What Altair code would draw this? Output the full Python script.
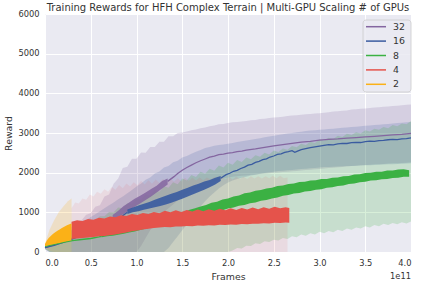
import altair as alt
import pandas as pd

ORDER = ["32", "16", "8", "4", "2"]
COLORS = ["#8466a0", "#3a5ba0", "#3bb143", "#e5534b", "#fbb117"]
TITLE = "Training Rewards for HFH Complex Terrain | Multi-GPU Scaling # of GPUs"
X_TICKS = [0.0, 0.5, 1.0, 1.5, 2.0, 2.5, 3.0, 3.5, 4.0]
Y_TICKS = [0, 1000, 2000, 3000, 4000, 5000, 6000]


def grid(start, step, n):
    return [round(start + step * i, 3) for i in range(n)]


# ---------------- smooth parts of the mean curves (frames in 1e11) ----------------
x_8_a = [0.0, 0.1, 0.2, 0.3, 0.4, 0.5, 0.59, 0.62]
y_8_a = [140, 190, 240, 285, 315, 340, 380, 395]

x_16_a = [0.0, 0.1, 0.2, 0.3, 0.4, 0.5, 0.6, 0.7, 0.8, 0.9]
y_16_a = [110, 170, 240, 330, 420, 520, 620, 730, 830, 1000]
x_16_c = [1.92, 1.98, 2.02, 2.06, 2.1, 2.14, 2.18, 2.22, 2.26, 2.3, 2.34, 2.38, 2.42, 2.46, 2.5, 2.54, 2.58, 2.62,
          2.66, 2.7, 2.73, 2.76, 2.8, 2.85, 2.9, 2.95, 3.0, 3.05, 3.1, 3.15, 3.2, 3.25, 3.3, 3.35, 3.4, 3.45, 3.5,
          3.55, 3.6, 3.65, 3.7, 3.75, 3.8, 3.85, 3.9, 3.95, 4.0]
y_16_c = [1860, 1950, 1985, 2035, 2060, 2105, 2140, 2190, 2210, 2260, 2285, 2330, 2350, 2395, 2420, 2460, 2475, 2510,
          2530, 2555, 2515, 2545, 2580, 2605, 2630, 2650, 2670, 2690, 2705, 2700, 2725, 2740, 2735, 2755, 2765, 2760,
          2780, 2795, 2790, 2810, 2815, 2830, 2840, 2835, 2850, 2860, 2875]

x_32_a = [0.0, 0.1, 0.2, 0.3, 0.4, 0.5, 0.6, 0.7, 0.74]
y_32_a = [110, 180, 260, 350, 440, 540, 640, 750, 870]
x_32_c = [1.34, 1.41, 1.45, 1.5, 1.55, 1.6, 1.65, 1.7, 1.75, 1.8, 1.85, 1.9, 1.95, 2.0, 2.05, 2.1, 2.15, 2.2, 2.3,
          2.4, 2.5, 2.6, 2.7, 2.8, 2.9, 3.0, 3.1, 3.2, 3.3, 3.4, 3.5, 3.6, 3.7, 3.8, 3.9, 4.0]
y_32_c = [1780, 1900, 1980, 2060, 2130, 2190, 2250, 2300, 2345, 2390, 2420, 2455, 2470, 2495, 2505, 2530, 2545, 2570,
          2600, 2640, 2675, 2705, 2740, 2770, 2790, 2820, 2840, 2850, 2870, 2885, 2900, 2915, 2935, 2955, 2965, 2990]

# ---------------- fast-oscillating parts of the mean curves: trough / peak envelopes ----------------
ex_2 = [0.0, 0.02, 0.04, 0.06, 0.08, 0.1, 0.12, 0.14, 0.16, 0.18, 0.2, 0.22, 0.24, 0.26, 0.28, 0.29]
el_2 = [150, 160, 170, 180, 190, 200, 210, 220, 230, 240, 250, 260, 270, 280, 290, 295]
eh_2 = [200, 290, 350, 400, 440, 480, 510, 540, 570, 600, 625, 650, 675, 695, 715, 720]

ex_4 = grid(0.29, 0.06, 40) + [2.67]
el_4 = [330, 340, 350, 365, 380, 395, 405, 425, 440, 465, 490, 520, 545, 570, 585, 605, 615, 630, 625, 645,
        640, 655, 650, 665, 660, 675, 670, 685, 680, 695, 690, 705, 700, 715, 710, 725, 720, 735, 730, 745, 740]
eh_4 = [760, 800, 780, 835, 815, 865, 845, 895, 875, 925, 905, 955, 935, 985, 960, 1010, 980, 1040, 1000, 1050,
        1010, 1060, 1020, 1070, 1030, 1080, 1040, 1090, 1050, 1100, 1060, 1110, 1070, 1120, 1080, 1130, 1090, 1140, 1100, 1130,
        1110]

ex_8 = grid(0.62, 0.06, 57)
el_8 = [375, 395, 408, 432, 458, 492, 515, 552, 583, 618, 642, 684, 705, 740, 758, 798, 826, 870, 900, 945,
        975, 1020, 1050, 1098, 1122, 1165, 1188, 1230, 1250, 1290, 1310, 1350, 1372, 1415, 1436, 1472, 1490, 1528, 1540, 1572,
        1585, 1618, 1630, 1662, 1675, 1712, 1728, 1760, 1770, 1802, 1808, 1834, 1840, 1866, 1870, 1895, 1900]
eh_8 = [418, 438, 465, 490, 538, 570, 618, 655, 710, 748, 800, 838, 890, 925, 978, 1010, 1068, 1100, 1150, 1185,
        1240, 1268, 1325, 1350, 1402, 1425, 1478, 1500, 1545, 1560, 1602, 1618, 1662, 1675, 1715, 1726, 1762, 1770, 1802, 1806,
        1838, 1842, 1872, 1876, 1908, 1915, 1952, 1958, 1990, 1996, 2022, 2026, 2052, 2055, 2080, 2085, 2060]

ex_16 = grid(0.90, 0.06, 18)
el_16 = [960, 1000, 1030, 1065, 1095, 1130, 1160, 1200, 1240, 1290, 1340, 1400, 1455, 1515, 1570, 1635, 1700, 1790]
eh_16 = [1070, 1125, 1170, 1215, 1260, 1315, 1370, 1420, 1470, 1515, 1570, 1620, 1675, 1720, 1775, 1815, 1870, 1915]

ex_32 = grid(0.74, 0.06, 11)
el_32 = [820, 880, 960, 1050, 1140, 1220, 1310, 1400, 1500, 1600, 1700]
eh_32 = [930, 1040, 1160, 1250, 1340, 1420, 1500, 1590, 1670, 1790, 1850]

# ---------------- std bands ----------------
bx_2 = [0.0, 0.05, 0.1, 0.15, 0.2, 0.25, 0.29]
lo_2 = [100, 20, 0, 0, 0, 0, 0]
hi_2 = [220, 560, 800, 1000, 1150, 1280, 1350]

bx_4 = grid(0.29, 0.04, 60)
lo_4 = [0] * 60
hi_4 = [1100, 1250, 1220, 1350, 1320, 1450, 1400, 1520, 1470, 1580,
        1520, 1640, 1570, 1690, 1610, 1730, 1650, 1760, 1680, 1790,
        1700, 1810, 1720, 1830, 1740, 1840, 1760, 1850, 1770, 1860,
        1780, 1870, 1790, 1870, 1800, 1880, 1810, 1880, 1820, 1890,
        1820, 1890, 1830, 1900, 1830, 1900, 1840, 1900, 1840, 1910,
        1850, 1910, 1850, 1910, 1860, 1920, 1860, 1920, 1860, 1880]

bx = grid(0.0, 0.05, 81)
lo_8 = [80] + [0] * 40 + [40, 100, 90, 160, 150, 220, 200, 270, 250, 310, 290, 350, 330, 400, 370, 440, 410, 470, 440, 510,
                          470, 530, 500, 560, 530, 590, 560, 620, 590, 650, 620, 680, 650, 710, 680, 730, 700, 750, 720, 770]
hi_8 = [200, 260, 320, 380, 430, 480, 560, 600, 680, 700, 790, 800, 900, 900, 1010, 1000, 1120, 1100, 1230, 1210,
        1340, 1320, 1450, 1420, 1560, 1520, 1660, 1620, 1760, 1710, 1850, 1800, 1940, 1890, 2020, 1970, 2100, 2050, 2180, 2130,
        2250, 2200, 2320, 2270, 2380, 2340, 2440, 2400, 2500, 2460, 2560, 2520, 2610, 2580, 2670, 2640, 2730, 2700, 2780, 2750,
        2840, 2810, 2880, 2850, 2930, 2900, 2980, 2950, 3020, 2990, 3070, 3040, 3110, 3080, 3150, 3120, 3200, 3170, 3240, 3220,
        3300]

lo_16 = [70] + [0] * 26 + [100, 250, 400, 550, 700, 850, 1000, 1150, 1280, 1400, 1500, 1600, 1680, 1750,
                           1800, 1840, 1870, 1900, 1930, 1950, 1970, 1990, 2010, 2025, 2040, 2050, 2060, 2070, 2080, 2090,
                           2100, 2110, 2120, 2130, 2140, 2145, 2150, 2155, 2160, 2165, 2170, 2175, 2180, 2185, 2190, 2195,
                           2200, 2205, 2210, 2215, 2220, 2225, 2230, 2235]
hi_16 = [150, 220, 290, 360, 430, 500, 580, 650, 730, 800, 880, 950, 1030, 1100, 1180, 1250, 1330, 1400,
         1480, 1560, 1650, 1730, 1820, 1880, 1980, 2030, 2130, 2170, 2260, 2300, 2380, 2420, 2480, 2530, 2570, 2620,
         2650, 2680, 2700, 2710,
         2730, 2750, 2770, 2790, 2810, 2830, 2850, 2870, 2890, 2910, 2930, 2950, 2970, 2990, 3000, 3020, 3030, 3050,
         3060, 3070, 3080, 3090, 3100, 3110, 3120, 3130, 3140, 3150, 3160, 3170, 3180, 3190, 3200, 3210, 3220, 3230,
         3240, 3250, 3260, 3270, 3280]

lo_32 = [60] + [0] * 20 + [150, 350, 550, 700, 850, 1000, 1100, 1200, 1300, 1400, 1470, 1540, 1600, 1650, 1700, 1740,
                           1780, 1820, 1850, 1880,
                           1900, 1910, 1920, 1930, 1945, 1955, 1965, 1975, 1985, 1995, 2005, 2015, 2025, 2035, 2045, 2055,
                           2065, 2075, 2085, 2095, 2105, 2115, 2125, 2135, 2145, 2155, 2165, 2175, 2185, 2195, 2200, 2210,
                           2215, 2220, 2230, 2235, 2240, 2245, 2250, 2260]
hi_32 = [150, 230, 320, 400, 480, 560, 640, 760, 800, 940, 980, 1140, 1180, 1400, 1450, 1720, 1850, 2120, 2150, 2350,
         2350, 2510, 2500, 2650, 2650, 2780, 2780, 2920, 2920, 3000, 3010, 3040, 3070, 3090, 3120, 3140, 3170, 3190, 3220, 3230,
         3250, 3270, 3280, 3290, 3300, 3320, 3330, 3350, 3360, 3380, 3390, 3400, 3410, 3430, 3440, 3450, 3460, 3470, 3480, 3490,
         3500, 3510, 3520, 3540, 3550, 3560, 3570, 3590, 3600, 3610, 3620, 3630, 3640, 3650, 3660, 3670, 3680, 3690, 3700, 3710,
         3720]

# ---------------- assemble tables ----------------
line_parts = {
    "32": [(x_32_a, y_32_a), (x_32_c, y_32_c)],
    "16": [(x_16_a, y_16_a), (x_16_c, y_16_c)],
    "8": [(x_8_a, y_8_a)],
    "4": [],
    "2": [],
}
envelopes = {
    "32": (ex_32, el_32, eh_32),
    "16": (ex_16, el_16, eh_16),
    "8": (ex_8, el_8, eh_8),
    "4": (ex_4, el_4, eh_4),
    "2": (ex_2, el_2, eh_2),
}
bands = {
    "32": (bx, lo_32, hi_32),
    "16": (bx, lo_16, hi_16),
    "8": (bx, lo_8, hi_8),
    "4": (bx_4, lo_4, hi_4),
    "2": (bx_2, lo_2, hi_2),
}
BAND_OPACITY = {"32": 0.2, "16": 0.18, "8": 0.2, "4": 0.1, "2": 0.2}
ENV_OPACITY = {"32": 0.85, "16": 0.9, "8": 1.0, "4": 1.0, "2": 1.0}

line_rows, env_rows, band_rows = [], [], []
for g in ORDER:
    for s, (xs, ys) in enumerate(line_parts[g]):
        assert len(xs) == len(ys), (g, s, len(xs), len(ys))
        for a, b in zip(xs, ys):
            line_rows.append({"gpus": g, "seg": f"{g}-{s}", "frames": a, "reward": b})
    exs, els, ehs = envelopes[g]
    assert len(exs) == len(els) == len(ehs), (g, len(exs), len(els), len(ehs))
    for a, lo, hi in zip(exs, els, ehs):
        env_rows.append({"series": g, "frames": a, "lo": lo, "hi": hi})
    bxs, los, his = bands[g]
    assert len(bxs) == len(los) == len(his), (g, len(bxs), len(los), len(his))
    for a, lo, hi in zip(bxs, los, his):
        band_rows.append({"series": g, "frames": a, "lo": lo, "hi": hi})

line_df = pd.DataFrame(line_rows)
env_df = pd.DataFrame(env_rows)
band_df = pd.DataFrame(band_rows)
legend_df = pd.DataFrame({"gpus": ORDER, "row": list(range(len(ORDER)))})

FONT = "DejaVu Sans"
TXT = "#333333"
color_scale = alt.Scale(domain=ORDER, range=COLORS)

x_enc = alt.X("frames:Q", scale=alt.Scale(domain=[0, 4], nice=False, zero=False),
              axis=alt.Axis(values=X_TICKS, format=".1f", title="Frames",
                            titleX=183, titleY=24, titleBaseline="middle"))


def y_enc(field):
    return alt.Y(field, scale=alt.Scale(domain=[0, 6000], nice=False),
                 axis=alt.Axis(values=Y_TICKS, format="d", title="Reward",
                               titleX=-37, titleY=119, titleBaseline="middle", titleAlign="center"))


layers = []
for g in ORDER:
    layers.append(
        alt.Chart(band_df).transform_filter(alt.datum.series == g)
        .mark_area(opacity=BAND_OPACITY[g])
        .encode(x=x_enc, y=y_enc("lo:Q"), y2="hi:Q",
                fill=alt.Fill("series:N", scale=color_scale, legend=None))
    )

for g in ORDER:
    if line_parts[g]:
        layers.append(
            alt.Chart(line_df).transform_filter(alt.datum.gpus == g)
            .mark_line(strokeWidth=1.3)
            .encode(x=x_enc, y=y_enc("reward:Q"), detail="seg:N",
                    stroke=alt.Stroke("gpus:N", scale=color_scale, legend=None))
        )
    layers.append(
        alt.Chart(env_df).transform_filter(alt.datum.series == g)
        .mark_area(opacity=ENV_OPACITY[g])
        .encode(x=x_enc, y=y_enc("lo:Q"), y2="hi:Q",
                fill=alt.Fill("series:N", scale=color_scale, legend=None))
    )

# ---------------- legend (drawn as marks) ----------------
legend_box = alt.Chart(pd.DataFrame({"k": [0]})).mark_rect(
    fill="#EAEAF2", fillOpacity=0.85, stroke="#cccccc", strokeWidth=0.8, cornerRadius=3
).encode(x=alt.value(318), x2=alt.value(366), y=alt.value(6), y2=alt.value(78))

legend_base = alt.Chart(legend_df).transform_calculate(py="12.7 + 14.4 * datum.row")
legend_lines = legend_base.mark_rule(strokeWidth=1.5).encode(
    x=alt.value(321), x2=alt.value(341),
    y=alt.Y("py:Q", scale=None, axis=None),
    stroke=alt.Stroke("gpus:N", scale=color_scale, legend=None),
)
legend_labels = legend_base.mark_text(
    align="left", baseline="middle", font=FONT, fontSize=9.4, color=TXT
).encode(x=alt.value(348), y=alt.Y("py:Q", scale=None, axis=None), text="gpus:N")
layers += [legend_box, legend_lines, legend_labels]

offset_text = alt.Chart(pd.DataFrame({"t": ["1e11"]})).mark_text(
    align="right", baseline="middle", font=FONT, fontSize=8.3, color=TXT
).encode(text="t:N", x=alt.value(366), y=alt.value(263))
layers.append(offset_text)

chart = alt.layer(*layers).properties(
    width=366, height=238,
    padding={"left": 45, "top": 14, "right": 12, "bottom": 33},
    autosize=alt.AutoSizeParams(type="none"),
    title=alt.TitleParams(TITLE, font=FONT, fontSize=10, fontWeight="normal", color=TXT,
                          anchor="middle", frame="group", offset=-3.5),
    background="white",
).configure_view(fill="#EAEAF2", stroke=None).configure_axis(
    grid=True, gridColor="white", gridWidth=1, domain=False, ticks=False,
    labelFont=FONT, labelFontSize=8.3, labelColor=TXT, labelPadding=6,
    titleFont=FONT, titleFontSize=9.4, titleFontWeight="normal", titleColor=TXT
)

chart.save("out.html", embed_options={"renderer": "svg", "actions": False})
